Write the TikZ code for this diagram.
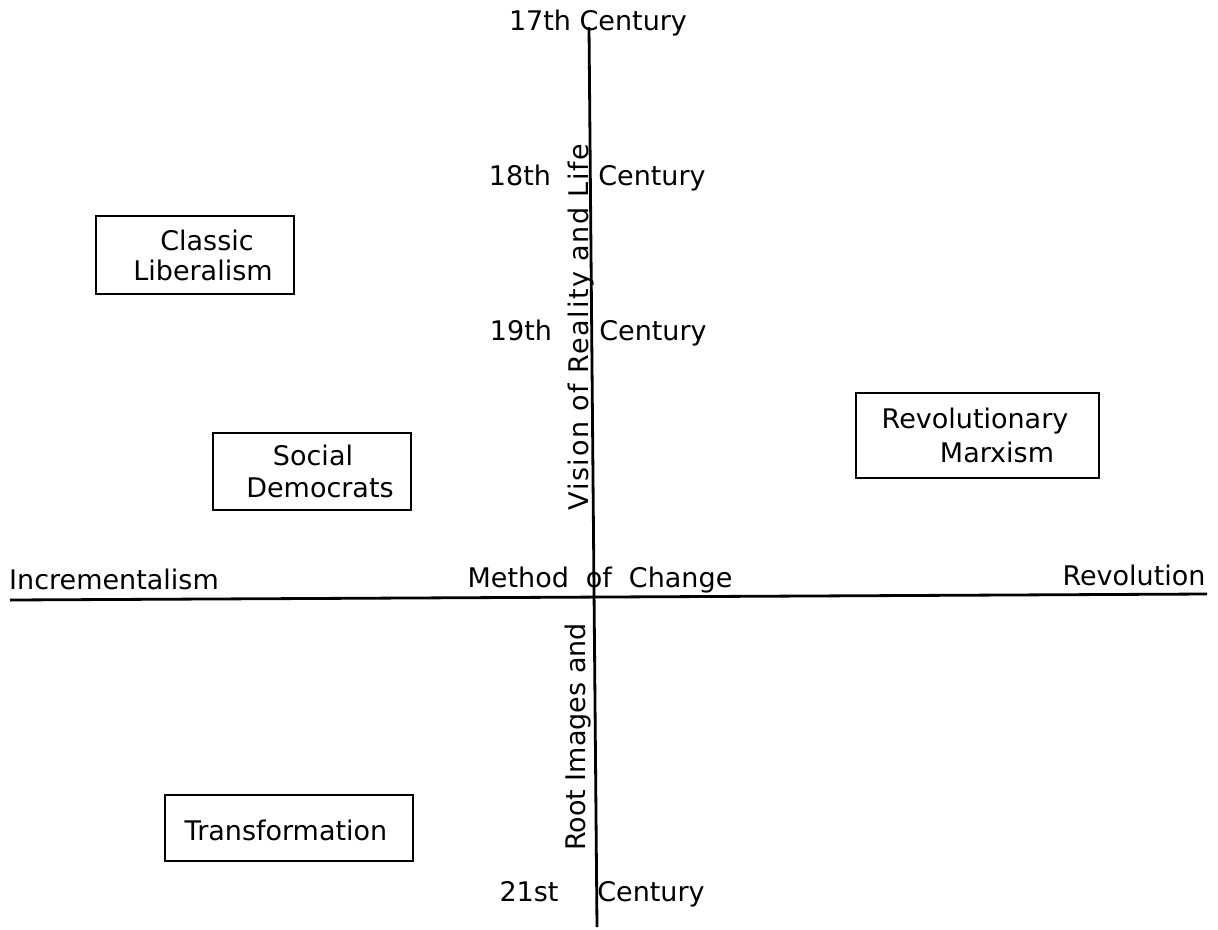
\documentclass[tikz,border=0pt]{standalone}
\usepackage{fontspec}
\setmainfont{DejaVu Sans}
\begin{document}
\begin{tikzpicture}[x=1pt,y=-1pt,
  lbl/.style={font=\fontsize{27}{30}\selectfont, inner sep=0pt, anchor=base},
  boxed/.style={draw, line width=2pt, inner sep=0pt, anchor=north west},
  axis/.style={line width=2.8pt}]
\useasboundingbox (0,0) rectangle (1218,929);
% axes
\coordinate (vt) at (589,27);
\coordinate (vb) at (597,927);
\coordinate (hl) at (10,600);
\coordinate (hr) at (1207,594);
\draw[axis] (vt) -- (vb);
\draw[axis] (hl) -- (hr);
% century labels
\node[lbl] (c17) at (598,30) {17th Century};
\node[lbl] (n18) at (520,185) {18th};
\node[lbl] (c18) at (652,185) {Century};
\node[lbl] (n19) at (521,340) {19th};
\node[lbl] (c19) at (653,340) {Century};
\node[lbl] (n21) at (529,901) {21st};
\node[lbl] (c21) at (651,901) {Century};
% axis labels
\node[lbl] (incr) at (114,589) {Incrementalism};
\node[lbl] (meth) at (600,587) {Method\hspace{17pt}of\hspace{17pt}Change};
\node[lbl] (revo) at (1134,585) {Revolution};
\node[font=\fontsize{27}{30}\selectfont\addfontfeature{LetterSpace=6}, inner sep=0pt, rotate=90] (vis) at (581,327) {Vision of Reality and Life};
\node[font=\fontsize{27}{30}\selectfont, inner sep=0pt, rotate=90] (root) at (578,737) {Root Images and};
% boxes
\node[boxed, minimum width=198pt, minimum height=78pt] (cl) at (95,215) {};
\node[lbl] (cl1) at (207,250) {Classic};
\node[lbl] (cl2) at (203,280) {Liberalism};
\node[boxed, minimum width=198pt, minimum height=77pt] (sd) at (212,432) {};
\node[lbl] (sd1) at (313,465) {Social};
\node[lbl] (sd2) at (320,497) {Democrats};
\node[boxed, minimum width=243pt, minimum height=85pt] (rm) at (855,392) {};
\node[lbl] (rm1) at (975,428) {Revolutionary};
\node[lbl] (rm2) at (997,462) {Marxism};
\node[boxed, minimum width=248pt, minimum height=66pt] (tr) at (164,794) {};
\node[lbl] (tr1) at (286,840) {Transformation};
\end{tikzpicture}
\end{document}
